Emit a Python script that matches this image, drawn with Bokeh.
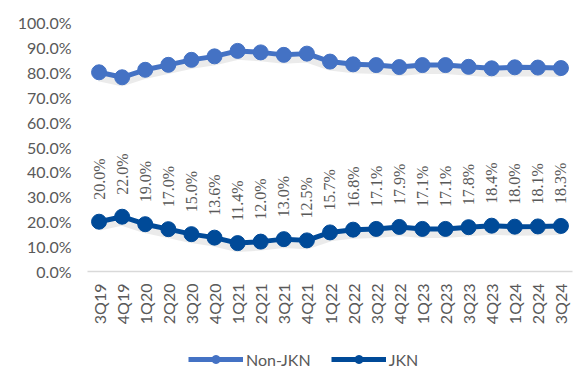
import math
from bokeh.plotting import figure
from bokeh.layouts import column
from bokeh.models import ColumnDataSource, FactorRange, Range1d, LabelSet, Legend, LegendItem, CustomJSTickFormatter
from bokeh.transform import dodge
from bokeh.embed import file_html
from bokeh.resources import INLINE

quarters = ["3Q19", "4Q19", "1Q20", "2Q20", "3Q20", "4Q20", "1Q21", "2Q21", "3Q21", "4Q21",
            "1Q22", "2Q22", "3Q22", "4Q22", "1Q23", "2Q23", "3Q23", "4Q23", "1Q24", "2Q24", "3Q24"]
jkn = [20.0, 22.0, 19.0, 17.0, 15.0, 13.6, 11.4, 12.0, 13.0, 12.5,
       15.7, 16.8, 17.1, 17.9, 17.1, 17.1, 17.8, 18.4, 18.0, 18.1, 18.3]
non_jkn = [80.0, 78.0, 81.0, 83.0, 85.0, 86.4, 88.6, 88.0, 87.0, 87.5,
           84.3, 83.2, 82.9, 82.1, 82.9, 82.9, 82.2, 81.6, 82.0, 81.9, 81.7]
jkn_labels = [f"{v:.1f}%" for v in jkn]
y_ticks = [0, 10, 20, 30, 40, 50, 60, 70, 80, 90, 100]
series_names = ["Non-JKN", "JKN"]

GRAY = "#595959"
FONT = "Lato"
C_NON = "#4472C4"
C_JKN = "#004A98"

src = ColumnDataSource(dict(q=quarters, jkn=jkn, non=non_jkn, lab=jkn_labels))

p = figure(x_range=FactorRange(*quarters, range_padding=0), y_range=Range1d(0, 100),
           width=573, height=337, output_backend="svg", toolbar_location=None,
           min_border_left=87, min_border_right=1, min_border_top=22, min_border_bottom=66)
p.outline_line_color = None
p.grid.grid_line_color = None
p.background_fill_color = "white"

# soft shadows
for col in ("non", "jkn"):
    p.line("q", dodge(col, -1.8, range=p.y_range), source=src, line_color="#000000",
           line_alpha=0.08, line_width=9)

p.line("q", "non", source=src, line_color=C_NON, line_width=5)
p.scatter("q", "non", source=src, size=15, fill_color=C_NON, line_color=C_NON)
p.line("q", "jkn", source=src, line_color=C_JKN, line_width=5)
p.scatter("q", "jkn", source=src, size=15, fill_color=C_JKN, line_color=C_JKN)

labels = LabelSet(x="q", y="jkn", text="lab", source=src, angle=math.pi / 2,
                  text_align="left", text_baseline="middle", y_offset=22,
                  text_font=FONT, text_font_size="16px", text_color=GRAY)
p.add_layout(labels)

p.yaxis.formatter = CustomJSTickFormatter(code="return tick.toFixed(1) + '%';")
p.yaxis.ticker = y_ticks
p.yaxis.axis_line_color = None
p.yaxis.major_tick_line_color = None
p.yaxis.minor_tick_line_color = None
p.yaxis.major_tick_out = 0
p.yaxis.major_label_standoff = 16
p.xaxis.axis_line_color = "#D9D9D9"
p.xaxis.axis_line_width = 1.5
p.xaxis.major_tick_line_color = None
p.xaxis.minor_tick_line_color = None
p.xaxis.major_tick_out = 0
p.xaxis.major_tick_in = 0
p.xaxis.major_label_orientation = math.pi / 2
p.xaxis.major_label_standoff = 12
for ax in (p.xaxis, p.yaxis):
    ax.major_label_text_font = FONT
    ax.major_label_text_font_size = "16px"
    ax.major_label_text_color = GRAY

# legend strip (series drawn out of view; only their legend icons show)
lg = figure(x_range=FactorRange(*quarters, range_padding=0), y_range=Range1d(-1000, -900),
            width=573, height=32, output_backend="svg", toolbar_location=None,
            x_axis_type=None, y_axis_type=None,
            min_border_left=0, min_border_right=0, min_border_top=0, min_border_bottom=0)
lg.outline_line_color = None
lg.grid.grid_line_color = None
a1 = lg.line("q", "non", source=src, line_color=C_NON, line_width=5)
b1 = lg.scatter("q", "non", source=src, size=15, fill_color=C_NON, line_color=C_NON)
a2 = lg.line("q", "jkn", source=src, line_color=C_JKN, line_width=5)
b2 = lg.scatter("q", "jkn", source=src, size=15, fill_color=C_JKN, line_color=C_JKN)
legend = Legend(items=[LegendItem(label=series_names[0], renderers=[a1, b1]),
                       LegendItem(label=series_names[1], renderers=[a2, b2])],
                orientation="horizontal", location=(101, 0),
                glyph_width=55, glyph_height=20, label_standoff=3, spacing=20,
                padding=0, margin=0, border_line_color=None, background_fill_alpha=0,
                label_text_font=FONT, label_text_font_size="16px", label_text_color=GRAY)
lg.add_layout(legend, "center")

layout = column(p, lg, spacing=0)
open("out.html", "w").write(file_html(layout, INLINE))
